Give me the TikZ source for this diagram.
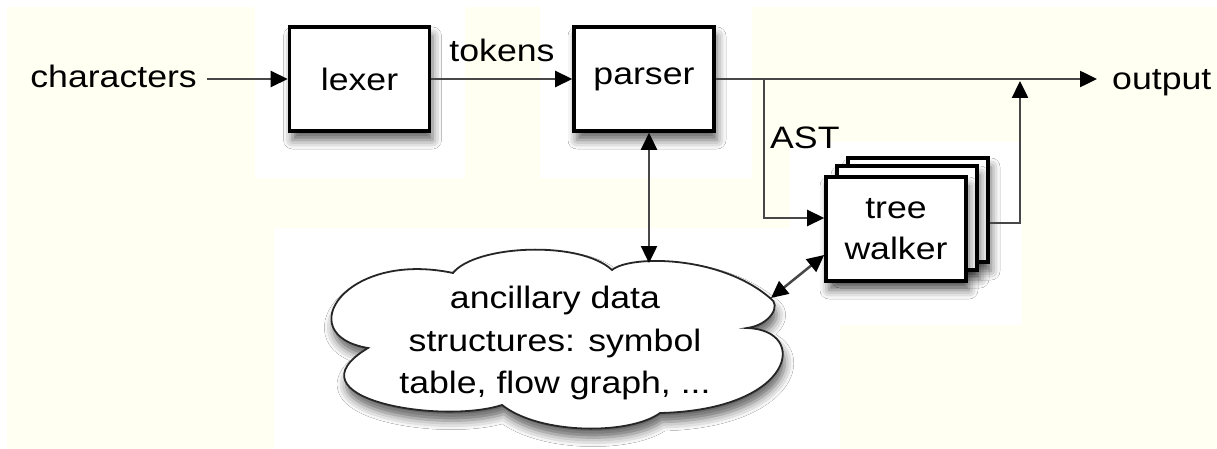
\documentclass[tikz,border=0pt]{standalone}
\usepackage{fontspec}
\setmainfont[FakeStretch=1.15]{Liberation Sans}
\usetikzlibrary{arrows.meta,shadows.blur,calc}
\definecolor{ivory}{RGB}{255,255,242}
\begin{document}
\begin{tikzpicture}[x=1pt,y=-1pt,
  font=\fontsize{31}{41}\selectfont,
  box/.style={draw=black, line width=3.6pt, fill=white, minimum width=140pt,
    minimum height=104pt, inner sep=0pt, align=center,
    blur shadow={shadow xshift=3pt, shadow yshift=-9pt, shadow blur radius=9pt, shadow opacity=62}},
  lbl/.style={inner sep=0pt},
  conn/.style={draw=black!72, line width=2.5pt},
  tip/.style={-{Triangle[length=17pt,width=16pt,color=black]}},
  dtip/.style={{Triangle[length=17pt,width=16pt,color=black]}-{Triangle[length=17pt,width=16pt,color=black]}},
  cloudline/.style={draw=black!85, line width=1.8pt, fill=white,
    blur shadow={shadow xshift=2pt, shadow yshift=-9pt, shadow blur radius=9pt, shadow opacity=62}},
  ]
\useasboundingbox (0,0) rectangle (1217,449);
% background paper
\fill[white] (0,0) rectangle (1217,449);
\fill[ivory] (7,7) rectangle (1217,449);
\fill[white] (255,7) rectangle (465,178);
\fill[white] (540,7) rectangle (752,178);
\fill[white] (790,142) rectangle (1022,325);
\fill[white] (274,228) rectangle (840,449);

% cloud
\path[cloudline] (368,348)
  .. controls (290,335) and (345,250) .. (453,273)
  .. controls (475,245) and (580,240) .. (612,270)
  .. controls (630,255) and (720,255) .. (770,298)
  .. controls (782,305) and (770,325) .. (747,328)
  .. controls (810,330) and (795,410) .. (660,413)
  .. controls (630,435) and (540,435) .. (502,405)
  .. controls (440,425) and (285,398) .. (368,348) -- cycle;

% nodes
\node[box] (lexer) at (359.5,79) {lexer};
\node[box] (parser) at (644,79) {parser};
\node[box] (twback) at (918,210) {};
\node[box] (twmid) at (907,218) {};
\node[box] (tw) at (896,229) {tree\\walker};
\node[align=center, inner sep=0pt, font=\fontsize{31}{42.5}\selectfont] (cloudtxt) at (555,343)
  {ancillary data\\structures: symbol\\table, flow graph, ...};

\node[lbl, inner xsep=10pt, anchor=base east] (chars) at (207,88) {characters};
\node[lbl, anchor=base] (tokens) at (502,62) {tokens};
\node[lbl, inner xsep=15pt, anchor=base west] (output) at (1097,90) {output};
\node[lbl, anchor=base west] (ast) at (770,149) {AST};

\coordinate (junc) at (764,79);
\coordinate (merge) at (1020,81);
\coordinate (ctop) at (649,263);
\coordinate (cright) at (771,298);

% connectors
\draw[conn,tip] (chars.east |- lexer.west) -- (lexer.west);
\draw[conn,tip] (lexer.east) -- (parser.west);
\draw[conn,tip] (parser.east) -- (parser.east -| output.west);
\draw[conn,tip] (junc) |- ([yshift=11pt]tw.west);
\draw[conn,tip] ([yshift=-13pt]twback.east) -| (merge);
\draw[conn,dtip] ([xshift=5pt]parser.south) -- (ctop);
\draw[conn,dtip] (cright) -- ([yshift=-26pt]tw.west);
\end{tikzpicture}
\end{document}
